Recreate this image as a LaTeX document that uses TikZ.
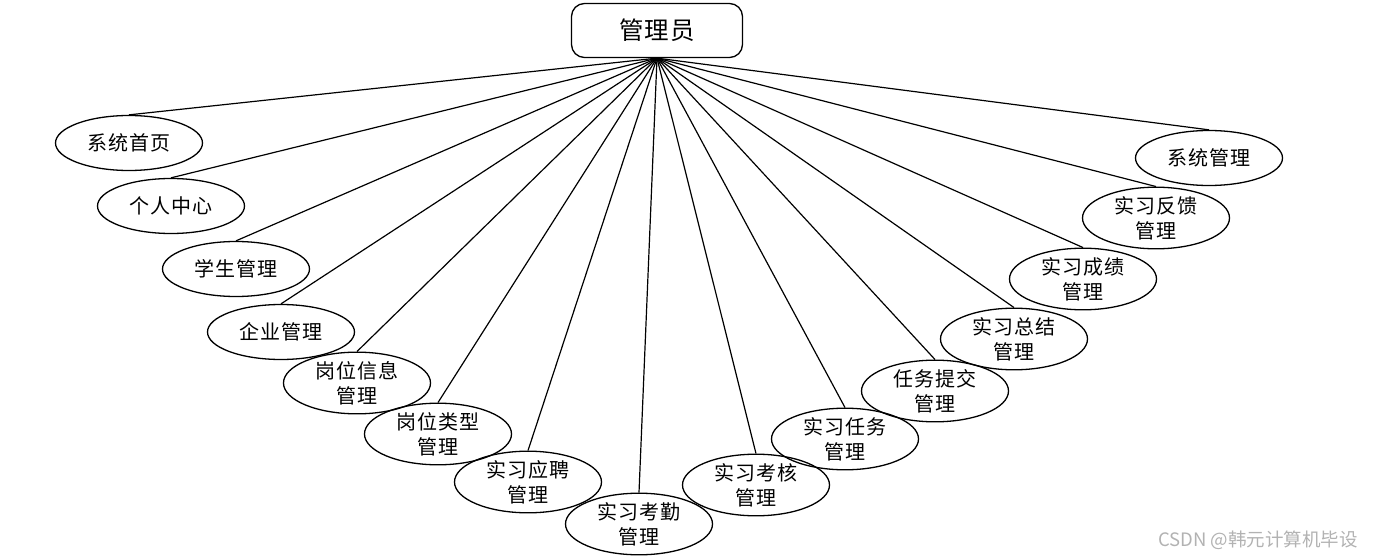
\documentclass[tikz,border=0pt]{standalone}
\usepackage{fontspec}
\setmainfont{Noto Sans CJK SC}[LetterSpace=5]
\newfontfamily\wmfont{Noto Sans CJK SC}
\usetikzlibrary{shapes.geometric}
\tikzset{
  rootbox/.style={draw, line width=1.3pt, rounded corners=13pt, minimum width=171pt, minimum height=54pt, inner sep=0pt, font=\fontsize{24.5}{28}\selectfont},
  func/.style={draw, ellipse, line width=1.3pt, minimum width=147pt, minimum height=55pt, inner sep=0pt, align=center, font=\fontsize{20}{25}\selectfont},
  link/.style={line width=1.2pt}
}
\begin{document}
\begin{tikzpicture}[x=1pt,y=-1pt]
\useasboundingbox (0,0) rectangle (1379,559);
\node[rootbox] (root) at (657,30.5) {管理员};
\node[func] (e1) at (129,143) {系统首页};
\node[func] (e2) at (171,206) {个人中心};
\node[func] (e3) at (236,269) {学生管理};
\node[func] (e4) at (281,332) {企业管理};
\node[func] (e5) at (357,383) {岗位信息\\管理};
\node[func] (e6) at (438,434) {岗位类型\\管理};
\node[func] (e7) at (528,482) {实习应聘\\管理};
\node[func] (e8) at (639,524) {实习考勤\\管理};
\node[func] (e9) at (756,485) {实习考核\\管理};
\node[func] (e10) at (845,439) {实习任务\\管理};
\node[func] (e11) at (935,391) {任务提交\\管理};
\node[func] (e12) at (1014,339) {实习总结\\管理};
\node[func] (e13) at (1083,279) {实习成绩\\管理};
\node[func] (e14) at (1156,218) {实习反馈\\管理};
\node[func] (e15) at (1209,158) {系统管理};
\foreach \i in {1,...,15} {\draw[link] (root.south) -- (e\i.north);}
\node[text=black!30, font=\wmfont\fontsize{18.5}{20}\selectfont] (wm) at (1258,540) {CSDN @韩元计算机毕设};
\end{tikzpicture}
\end{document}
